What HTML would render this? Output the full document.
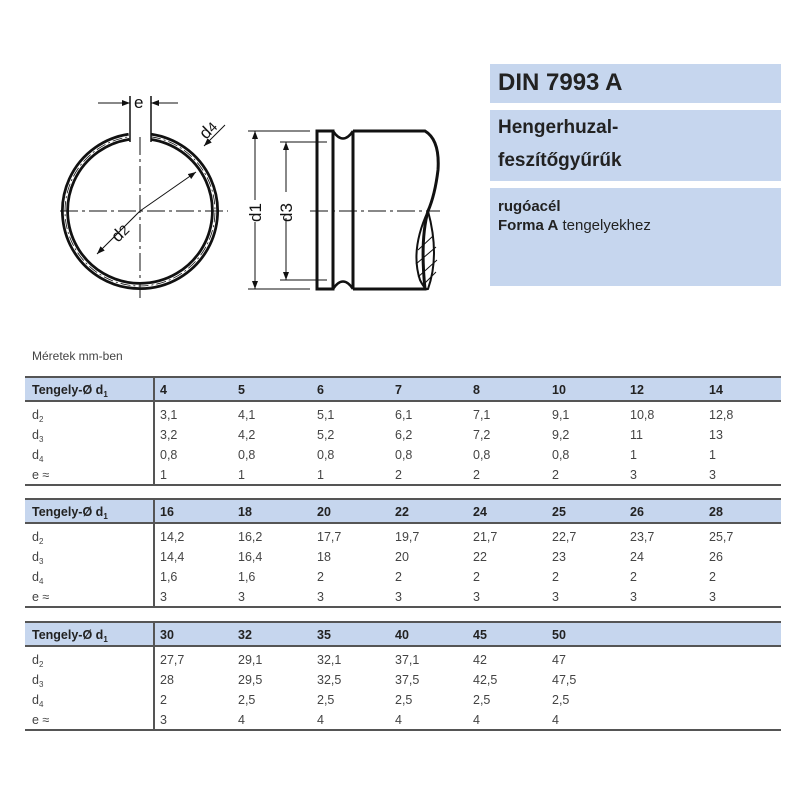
<!DOCTYPE html>
<html><head><meta charset="utf-8"><style>
body{margin:0;width:800px;height:800px;background:#fff;position:relative;overflow:hidden;font-family:"Liberation Sans",Arial,sans-serif;}
.box{position:absolute;left:490px;width:291px;background:#c6d6ee;color:#222;}
.t{position:absolute;left:25px;width:756px;height:106px;border-top:2px solid #555;border-bottom:2px solid #555;}
.t .h{position:absolute;left:0;top:0;width:756px;height:22px;background:#c6d6ee;border-bottom:2px solid #555;}
.t .v{position:absolute;left:128px;top:0;width:2px;height:106px;background:#555;}
.c{position:absolute;font-size:12.5px;color:#444;white-space:nowrap;line-height:14px;}
.b{font-weight:bold;color:#222;font-size:12.5px;}
sub{font-size:8px;line-height:0;vertical-align:-3px;}
</style></head><body>
<svg width="800" height="800" style="position:absolute;left:0;top:0" xmlns="http://www.w3.org/2000/svg">
<defs><marker id="a" markerWidth="8" markerHeight="6" refX="8" refY="3" orient="auto" markerUnits="userSpaceOnUse"><path d="M0,0 L8,3 L0,6z" fill="#111"/></marker></defs>
<g stroke="#111" fill="none">
<path d="M151,136.8 A75,75 0 1 1 129,136.8" stroke-width="8"/>
<path d="M151,136.8 A75,75 0 1 1 129,136.8" stroke="#fff" stroke-width="2.5"/>
<path d="M151,136.8 A75,75 0 1 1 129,136.8" stroke-width="0.8" stroke-dasharray="10,3,2,3"/>
<line x1="60" y1="211" x2="228" y2="211" stroke-width="1" stroke-dasharray="18,4,3,4"/>
<line x1="140" y1="137" x2="140" y2="298" stroke-width="1" stroke-dasharray="18,4,3,4"/>
<line x1="130" y1="96" x2="130" y2="142" stroke-width="1.5"/>
<line x1="151" y1="96" x2="151" y2="142" stroke-width="1.5"/>
<line x1="98" y1="103" x2="130" y2="103" stroke-width="1" marker-end="url(#a)"/>
<line x1="178" y1="103" x2="151" y2="103" stroke-width="1" marker-end="url(#a)"/>
<line x1="140" y1="211" x2="196" y2="172" stroke-width="1" marker-end="url(#a)"/>
<line x1="140" y1="211" x2="97" y2="254" stroke-width="1" marker-end="url(#a)"/>
<line x1="225" y1="125" x2="204" y2="146" stroke-width="1" marker-end="url(#a)"/>
<rect x="317" y="131" width="16" height="158" stroke-width="3"/>
<line x1="333" y1="131" x2="333" y2="289" stroke-width="3"/>
<path d="M333,131 Q343,146 353,131 M333,289 Q343,274 353,289" stroke-width="2.5"/>
<line x1="353" y1="131" x2="353" y2="289" stroke-width="3"/>
<path d="M353,131 L425,131 Q440,140 438,170 Q435,195 428,211 Q420,240 425,289 L353,289" stroke-width="3"/>
<path d="M428,211 Q410,250 420,280 Q425,290 428,289 Q440,255 428,211z" stroke-width="2"/>
<path d="M418,250 L433,236 M416,264 L436,247 M418,277 L437,260 M423,285 L436,272" stroke-width="1"/>
<line x1="310" y1="211" x2="440" y2="211" stroke-width="1" stroke-dasharray="18,4,3,4"/>
<line x1="248" y1="131" x2="310" y2="131" stroke-width="1"/>
<line x1="248" y1="289" x2="310" y2="289" stroke-width="1"/>
<line x1="280" y1="142" x2="327" y2="142" stroke-width="1"/>
<line x1="280" y1="280" x2="327" y2="280" stroke-width="1"/>
<line x1="255" y1="200" x2="255" y2="131" stroke-width="1" marker-end="url(#a)"/>
<line x1="255" y1="222" x2="255" y2="289" stroke-width="1" marker-end="url(#a)"/>
<line x1="286" y1="192" x2="286" y2="142" stroke-width="1" marker-end="url(#a)"/>
<line x1="286" y1="218" x2="286" y2="280" stroke-width="1" marker-end="url(#a)"/>
</g>
<g font-family="Liberation Sans,sans-serif" font-size="17" fill="#111">
<text x="134" y="108">e</text>
<text transform="translate(118,243) rotate(-45)">d<tspan font-size="14">2</tspan></text>
<text transform="translate(206,140) rotate(-45)">d<tspan font-size="14">4</tspan></text>
<text transform="translate(261,222) rotate(-90)">d1</text>
<text transform="translate(292,222) rotate(-90)">d3</text>
</g>
</svg>
<div class="box" style="top:64px;height:39px;"><div style="position:absolute;left:8px;top:5px;font-size:24px;font-weight:bold">DIN 7993 A</div></div>
<div class="box" style="top:110px;height:71px;font-size:19px;font-weight:bold"><div style="position:absolute;left:8px;top:7px">Hengerhuzal-</div><div style="position:absolute;left:8px;top:40px">feszítőgyűrűk</div></div>
<div class="box" style="top:188px;height:98px;font-size:15px"><div style="position:absolute;left:8px;top:10px;font-weight:bold">rugóacél</div><div style="position:absolute;left:8px;top:29px"><b>Forma A</b> tengelyekhez</div></div>
<div class="c" style="left:32px;top:349px;font-size:12px">Méretek mm-ben</div>

<div class="t" style="top:376px"><div class="h"></div><div class="v"></div></div>
<div class="t" style="top:498px"><div class="h"></div><div class="v"></div></div>
<div class="t" style="top:621px"><div class="h"></div><div class="v"></div></div>

<div id="d"></div>
<script>
var T=[[376,[["4","3,1","3,2","0,8","1"],["5","4,1","4,2","0,8","1"],["6","5,1","5,2","0,8","1"],["7","6,1","6,2","0,8","2"],["8","7,1","7,2","0,8","2"],["10","9,1","9,2","0,8","2"],["12","10,8","11","1","3"],["14","12,8","13","1","3"]]],
[498,[["16","14,2","14,4","1,6","3"],["18","16,2","16,4","1,6","3"],["20","17,7","18","2","3"],["22","19,7","20","2","3"],["24","21,7","22","2","3"],["25","22,7","23","2","3"],["26","23,7","24","2","3"],["28","25,7","26","2","3"]]],
[621,[["30","27,7","28","2","3"],["32","29,1","29,5","2,5","4"],["35","32,1","32,5","2,5","4"],["40","37,1","37,5","2,5","4"],["45","42","42,5","2,5","4"],["50","47","47,5","2,5","4"]]]];
var X=[160,238,317,395,473,552,630,709],h="";
var L=['Tengely-Ø d<sub>1</sub>','d<sub>2</sub>','d<sub>3</sub>','d<sub>4</sub>','e ≈'];
T.forEach(function(t){
L.forEach(function(v,j){var y=t[0]+(j==0?7:j*20+12);h+='<div class="c'+(j==0?' b':'')+'" style="left:32px;top:'+y+'px">'+v+'</div>';});
t[1].forEach(function(col,i){col.forEach(function(v,j){
var y=t[0]+(j==0?7:j*20+12);h+='<div class="c'+(j==0?' b':'')+'" style="left:'+X[i]+'px;top:'+y+'px">'+v+'</div>';});});});
document.getElementById("d").innerHTML=h;
</script>
</body></html>
